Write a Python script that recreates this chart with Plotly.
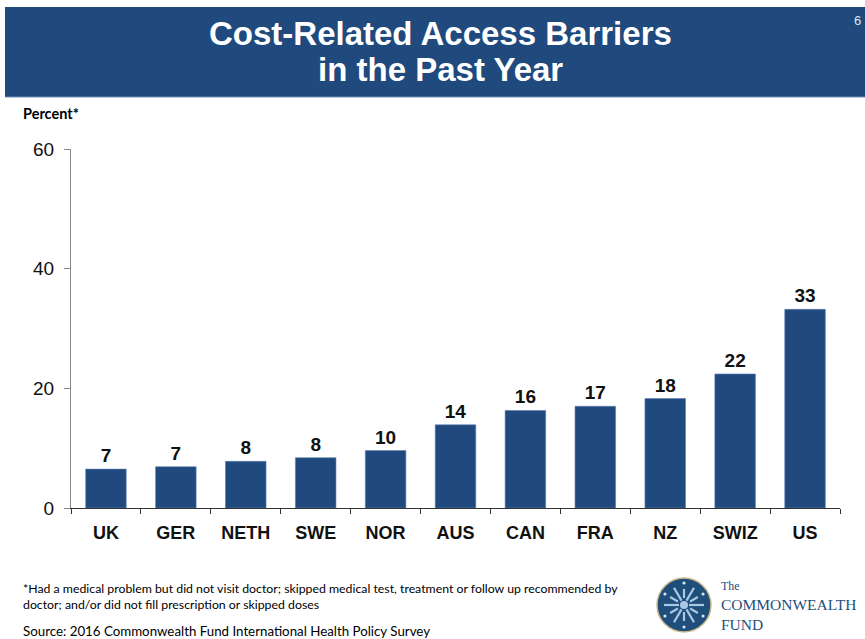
import math
import plotly.graph_objects as go

# Share of adults reporting cost-related access barriers, by country
countries = ["UK", "GER", "NETH", "SWE", "NOR", "AUS", "CAN", "FRA", "NZ", "SWIZ", "US"]
percent = [6.5, 6.9, 7.8, 8.4, 9.6, 13.9, 16.3, 17.0, 18.3, 22.4, 33.2]
y_ticks = [0, 20, 40, 60]

W, H = 865, 639
L, R, T, B = 71, 25, 149, 131
PW, PH = W - L - R, H - T - B

BLUE = "#204a7e"


def px(x):
    return (x - L) / PW


def py(y):
    return (H - B - y) / PH


fig = go.Figure(
    go.Bar(
        x=countries,
        y=percent,
        marker=dict(color=BLUE, line=dict(color="#5a7fae", width=0.6)),
        texttemplate="%{y:.0f}",
        textposition="outside",
        textfont=dict(family="Liberation Sans, Arial", size=19, color="#111111", weight="bold"),
        cliponaxis=False,
        width=0.58,
    )
)

shapes = [
    # title band
    dict(type="rect", xref="paper", yref="paper", x0=px(5), x1=px(866), y0=py(97), y1=py(7),
         fillcolor=BLUE, line=dict(width=0), layer="below"),
    dict(type="line", xref="paper", yref="paper", x0=px(5), x1=px(866), y0=py(97), y1=py(97),
         line=dict(color="#6d8fb8", width=1)),
]

# emblem of the fund
cx, cy, rr = 684, 605, 27
shapes.append(dict(type="circle", xref="paper", yref="paper",
                   x0=px(cx - rr), x1=px(cx + rr), y0=py(cy + rr), y1=py(cy - rr),
                   fillcolor="#1f4e7a", line=dict(color="#c9b98c", width=1.5)))
for k in range(12):
    a = 2 * math.pi * k / 12
    r0 = 5 if k % 2 == 0 else 7
    r1 = 20 if k % 2 == 0 else 16
    shapes.append(dict(type="line", xref="paper", yref="paper",
                       x0=px(cx + r0 * math.cos(a)), y0=py(cy + r0 * math.sin(a)),
                       x1=px(cx + r1 * math.cos(a)), y1=py(cy + r1 * math.sin(a)),
                       line=dict(color="#a9c8e6", width=2.2)))
shapes.append(dict(type="circle", xref="paper", yref="paper",
                   x0=px(cx - 4), x1=px(cx + 4), y0=py(cy + 4), y1=py(cy - 4),
                   fillcolor="#a9c8e6", line=dict(width=0)))
for k in range(6):
    a = 2 * math.pi * (k + 0.5) / 6
    dx, dy = cx + 22 * math.cos(a), cy + 22 * math.sin(a)
    shapes.append(dict(type="circle", xref="paper", yref="paper",
                       x0=px(dx - 1.6), x1=px(dx + 1.6), y0=py(dy + 1.6), y1=py(dy - 1.6),
                       fillcolor="#d8e6f3", line=dict(width=0)))

ann = []


def text(x, y, s, size, color="#000000", family="Lato", weight="normal",
         xanchor="left", yanchor="middle", align="left"):
    ann.append(dict(xref="paper", yref="paper", x=px(x), y=py(y), text=s, showarrow=False,
                    xanchor=xanchor, yanchor=yanchor, align=align,
                    font=dict(size=size, color=color, family=family, weight=weight)))


TITLE_FONT = "Liberation Sans, Arial"
text(440, 33, "Cost-Related Access Barriers", 33, color="white",
     family=TITLE_FONT, weight="bold", xanchor="center", align="center")
text(440, 69, "in the Past Year", 33, color="white",
     family=TITLE_FONT, weight="bold", xanchor="center", align="center")
text(852, 20, "6", 13, color="#dfe6ee", family="Liberation Sans")
text(21, 114, "Percent*", 14.5, weight="bold")
text(21, 596, "*Had a medical problem but did not visit doctor; skipped medical test, treatment or follow up recommended by<br>doctor; and/or did not fill prescription or skipped doses", 12.3)
text(21, 631, "Source: 2016 Commonwealth Fund International Health Policy Survey", 13.3)
text(719, 606,
     "<span style='font-size:12px'>The</span><br>COMMONWEALTH<br>FUND",
     15.5, color="#1f4e7a", family="Liberation Serif")

fig.update_layout(
    width=W, height=H,
    margin=dict(l=L, r=R, t=T, b=B),
    paper_bgcolor="white", plot_bgcolor="white",
    showlegend=False,
    bargap=0.42,
    shapes=shapes,
    annotations=ann,
    xaxis=dict(
        type="category",
        showline=True, linecolor="#333333", linewidth=1,
        ticks="outside", tickson="boundaries", ticklen=5, tickcolor="#333333",
        tickfont=dict(family="Liberation Sans, Arial", size=18, color="#111111", weight="bold"),
        showgrid=False,
        ticklabelstandoff=8,
    ),
    yaxis=dict(
        range=[0, 60], tickvals=y_ticks,
        showline=True, linecolor="#888888", linewidth=1,
        ticks="outside", ticklen=6, tickcolor="#888888",
        tickfont=dict(family="Liberation Sans, Arial", size=19, color="#111111"),
        showgrid=False, zeroline=False,
        ticklabelstandoff=6,
    ),
)

fig.write_html("out.html")
